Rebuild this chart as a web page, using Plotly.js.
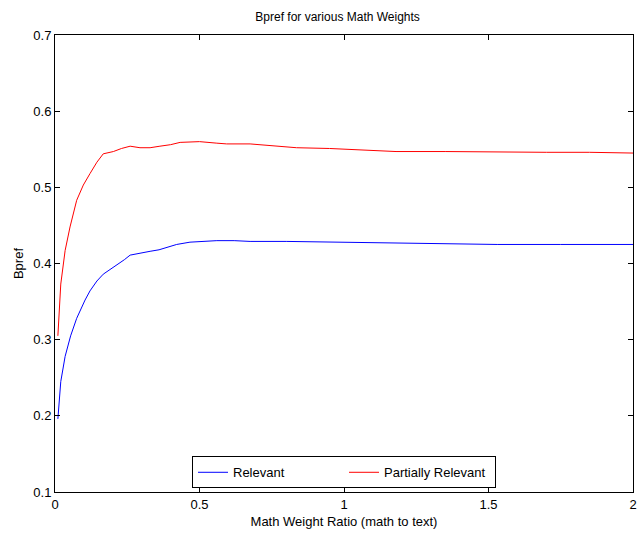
<!DOCTYPE html>
<html><head><meta charset="utf-8">
<script src="https://cdn.plot.ly/plotly-3.0.1.min.js"></script>
<style>body{margin:0;padding:0;background:#fff}</style>
</head><body>
<div id="chart" style="width:637px;height:537px"></div>
<script>
const relX = [0.01, 0.02, 0.035, 0.054, 0.075, 0.0865, 0.104, 0.121, 0.145, 0.167, 0.19, 0.213, 0.24, 0.26, 0.294, 0.329, 0.36, 0.386, 0.421, 0.467, 0.52, 0.56, 0.62, 0.675, 0.8, 0.95, 1.1, 1.3, 1.53, 1.75, 2.0];
const relY = [0.196, 0.245, 0.278, 0.305, 0.328, 0.338, 0.352, 0.364, 0.377, 0.386, 0.392, 0.397, 0.405, 0.411, 0.413, 0.416, 0.418, 0.421, 0.425, 0.428, 0.429, 0.430, 0.430, 0.429, 0.429, 0.428, 0.427, 0.426, 0.425, 0.425, 0.425];
const partX = [0.01, 0.02, 0.035, 0.052, 0.075, 0.098, 0.121, 0.145, 0.167, 0.202, 0.23, 0.26, 0.294, 0.329, 0.363, 0.4, 0.433, 0.467, 0.5, 0.56, 0.594, 0.675, 0.75, 0.836, 0.95, 1.066, 1.18, 1.35, 1.53, 1.70, 1.85, 2.0];
const partY = [0.305, 0.373, 0.417, 0.448, 0.483, 0.503, 0.518, 0.533, 0.544, 0.547, 0.551, 0.554, 0.552, 0.552, 0.554, 0.556, 0.559, 0.560, 0.560, 0.558, 0.557, 0.557, 0.555, 0.552, 0.551, 0.549, 0.547, 0.547, 0.546, 0.546, 0.546, 0.545];
const xTicks = [0, 0.5, 1, 1.5, 2];
const xTickText = ['0', '0.5', '1', '1.5', '2'];
const yTicks = [0.1, 0.2, 0.3, 0.4, 0.5, 0.6, 0.7];
const yTickText = ['0.1', '0.2', '0.3', '0.4', '0.5', '0.6', '0.7'];

const fam = 'Liberation Sans, Arial, sans-serif';
const font = {family: fam, size: 13, color: '#000'};
const traces = [
  {x: relX, y: relY, type: 'scatter', mode: 'lines', name: 'Relevant', line: {color: '#0000ff', width: 1}},
  {x: partX, y: partY, type: 'scatter', mode: 'lines', name: 'Partially Relevant', line: {color: '#ff0000', width: 1}}
];
const axisCommon = {showgrid: false, zeroline: false, showline: true, linecolor: '#000', linewidth: 1, mirror: 'ticks', ticks: 'inside', ticklen: 5, tickcolor: '#000', tickfont: font};
const layout = {
  width: 637, height: 537,
  margin: {l: 55, r: 4, t: 35, b: 45},
  paper_bgcolor: '#fff', plot_bgcolor: '#fff',
  font: font,
  title: {text: 'Bpref for various Math Weights', font: {family: fam, size: 12, color: '#000'}, x: 0.53, xanchor: 'center', y: 0.968, yanchor: 'middle'},
  xaxis: Object.assign({}, axisCommon, {range: [0, 2], tickvals: xTicks, ticktext: xTickText, title: {text: 'Math Weight Ratio (math to text)', font: font, standoff: 6}}),
  yaxis: Object.assign({}, axisCommon, {range: [0.1, 0.7], tickvals: yTicks, ticktext: yTickText, title: {text: 'Bpref', font: font, standoff: 6}}),
  showlegend: true,
  legend: {orientation: 'h', x: 0.5, xanchor: 'center', y: 0.008, yanchor: 'bottom', bordercolor: '#000', borderwidth: 1, bgcolor: '#fff', font: font, itemwidth: 30, entrywidth: 106, tracegroupgap: 0}
};
Plotly.newPlot('chart', traces, layout, {staticPlot: true});
</script>
</body></html>
